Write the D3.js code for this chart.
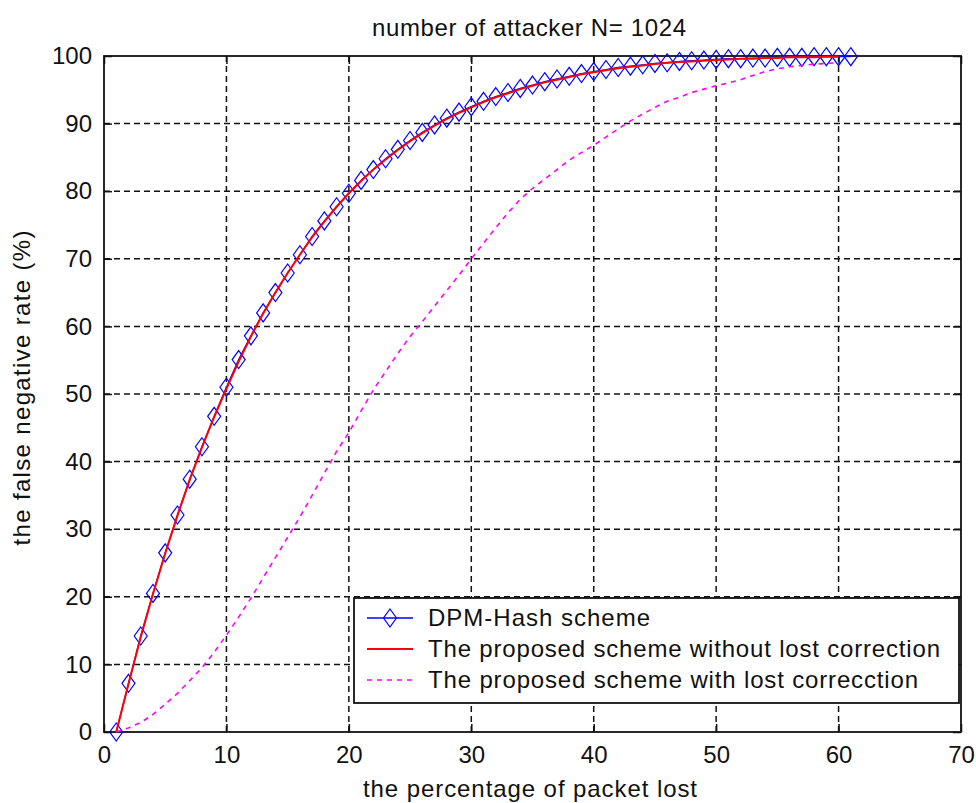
<!DOCTYPE html>
<html>
<head>
<meta charset="utf-8">
<script src="https://cdn.jsdelivr.net/npm/d3@7"></script>
<style>
  html, body { margin: 0; padding: 0; background: #fff; }
  svg text { font-family: "Liberation Sans", Arial, sans-serif; fill: #111; }
</style>
</head>
<body>
<div id="chart"></div>
<script>
// --- data ---
const title = "number of attacker N= 1024";
const xLabel = "the percentage of packet lost";
const yLabel = "the false negative rate (%)";
const xTicks = [0, 10, 20, 30, 40, 50, 60, 70];
const yTicks = [0, 10, 20, 30, 40, 50, 60, 70, 80, 90, 100];
const seriesNames = [
  "DPM-Hash scheme",
  "The proposed scheme without lost correction",
  "The proposed scheme with lost correcction"
];

// DPM-Hash, x = 1..61
const dpmX = d3.range(1, 62);
const dpmY = [0, 7.2, 14.2, 20.5, 26.5, 32.1, 37.4, 42.2, 46.7, 51.0,
  55.1, 58.6, 62.0, 65.0, 67.9, 70.6, 73.3, 75.6, 77.7, 79.7,
  81.6, 83.2, 84.8, 86.2, 87.5, 88.7, 89.8, 90.8, 91.7, 92.5,
  93.3, 94.0, 94.6, 95.2, 95.7, 96.2, 96.6, 97.0, 97.4, 97.7,
  98.0, 98.3, 98.5, 98.7, 98.9, 99.0, 99.2, 99.3, 99.4, 99.5,
  99.6, 99.6, 99.7, 99.7, 99.8, 99.8, 99.8, 99.9, 99.9, 99.9, 99.9];

// proposed scheme without lost correction, x = 1..60
const noCorrX = d3.range(1, 61);
const noCorrY = [0, 7.1, 14.0, 20.4, 26.4, 32.0, 37.3, 42.1, 46.6, 50.8,
  54.8, 58.5, 61.9, 65.0, 67.9, 70.6, 73.2, 75.5, 77.7, 79.7,
  81.5, 83.2, 84.7, 86.1, 87.4, 88.6, 89.7, 90.7, 91.6, 92.4,
  93.2, 93.9, 94.5, 95.1, 95.6, 96.1, 96.5, 96.9, 97.3, 97.6,
  97.9, 98.2, 98.4, 98.6, 98.8, 99.0, 99.1, 99.2, 99.3, 99.4,
  99.5, 99.6, 99.6, 99.7, 99.7, 99.8, 99.8, 99.8, 99.9, 99.9];

// proposed scheme with lost correction, x = 1..60
const corrX = d3.range(1, 61);
const corrY = [0, 0.6, 1.4, 2.6, 4.1, 5.7, 7.6, 9.5, 11.8, 14.3,
  17.0, 19.8, 22.8, 25.8, 28.8, 31.8, 35.0, 38.3, 41.5, 44.3,
  47.5, 50.6, 53.3, 56.0, 58.5, 60.7, 63.0, 65.3, 67.6, 70.0,
  72.3, 74.6, 76.8, 78.8, 80.4, 81.8, 83.2, 84.6, 85.7, 86.8,
  88.0, 89.2, 90.4, 91.4, 92.4, 93.3, 93.9, 94.6, 95.1, 95.6,
  96.0, 96.5, 97.1, 97.7, 98.1, 98.4, 98.6, 98.8, 98.9, 99.0];

// --- layout ---
const W = 976, H = 803;
const plot = { left: 104, right: 961, top: 56, bottom: 732 };

const svg = d3.select("#chart").append("svg")
  .attr("width", W).attr("height", H);

const x = d3.scaleLinear().domain([0, 70]).range([plot.left, plot.right]);
const y = d3.scaleLinear().domain([0, 100]).range([plot.bottom, plot.top]);

// grid
const grid = svg.append("g").attr("stroke", "#111").attr("stroke-width", 1.5)
  .attr("stroke-dasharray", "6,4");
grid.selectAll("line.gx").data(xTicks.slice(1, -1)).join("line")
  .attr("x1", d => x(d)).attr("x2", d => x(d))
  .attr("y1", plot.top).attr("y2", plot.bottom);
grid.selectAll("line.gy").data(yTicks.slice(1, -1)).join("line")
  .attr("y1", d => y(d)).attr("y2", d => y(d))
  .attr("x1", plot.left).attr("x2", plot.right);

// axes (ticks inside, mirrored on top/right)
const tickLen = 8;
const fs = 24;
const axB = svg.append("g").attr("transform", `translate(0,${plot.bottom})`)
  .call(d3.axisBottom(x).tickValues(xTicks).tickSizeInner(-tickLen).tickSizeOuter(0).tickPadding(14));
const axT = svg.append("g").attr("transform", `translate(0,${plot.top})`)
  .call(d3.axisTop(x).tickValues(xTicks).tickSizeInner(-tickLen).tickSizeOuter(0).tickFormat(""));
const axL = svg.append("g").attr("transform", `translate(${plot.left},0)`)
  .call(d3.axisLeft(y).tickValues(yTicks).tickSizeInner(-tickLen).tickSizeOuter(0).tickPadding(12));
const axR = svg.append("g").attr("transform", `translate(${plot.right},0)`)
  .call(d3.axisRight(y).tickValues(yTicks).tickSizeInner(-tickLen).tickSizeOuter(0).tickFormat(""));
[axB, axT, axL, axR].forEach(a => {
  a.select(".domain").remove();
  a.selectAll(".tick line").attr("stroke", "#111").attr("stroke-width", 1.5);
  a.selectAll("text").attr("font-size", fs).attr("fill", "#111")
    .style("font-family", "'Liberation Sans', Arial, sans-serif");
});

svg.append("rect")
  .attr("x", plot.left).attr("y", plot.top)
  .attr("width", plot.right - plot.left).attr("height", plot.bottom - plot.top)
  .attr("fill", "none").attr("stroke", "#111").attr("stroke-width", 1.8);

// series
const line = d3.line().x(d => x(d[0])).y(d => y(d[1]));
const dpm = d3.zip(dpmX, dpmY);
const noCorr = d3.zip(noCorrX, noCorrY);
const corr = d3.zip(corrX, corrY);

const diamond = (cx, cy) => `M${cx},${cy - 9}L${cx + 6.5},${cy}L${cx},${cy + 9}L${cx - 6.5},${cy}Z`;

svg.append("path").datum(dpm).attr("d", line)
  .attr("fill", "none").attr("stroke", "#0000ff").attr("stroke-width", 1.3);
svg.append("g").selectAll("path").data(dpm).join("path")
  .attr("d", d => diamond(x(d[0]), y(d[1])))
  .attr("fill", "none").attr("stroke", "#0000ff").attr("stroke-width", 1.2);

svg.append("path").datum(noCorr).attr("d", line)
  .attr("fill", "none").attr("stroke", "#ff0000").attr("stroke-width", 2);

svg.append("path").datum(corr).attr("d", line)
  .attr("fill", "none").attr("stroke", "#ff00ff").attr("stroke-width", 1.6)
  .attr("stroke-dasharray", "5,5");

// legend
const lg = { x: 354, y: 598, w: 605, h: 105 };
svg.append("rect").attr("x", lg.x).attr("y", lg.y).attr("width", lg.w).attr("height", lg.h)
  .attr("fill", "#fff").attr("stroke", "#111").attr("stroke-width", 1.8);
const rowY = [618, 649, 680];
const rowLen = [222, 512, 490];
const styles = [
  { stroke: "#0000ff", w: 1.3, dash: null, marker: true },
  { stroke: "#ff0000", w: 2, dash: null, marker: false },
  { stroke: "#ff00ff", w: 1.6, dash: "5,5", marker: false }
];
seriesNames.forEach((name, i) => {
  const s = styles[i];
  svg.append("line").attr("x1", 367).attr("x2", 413).attr("y1", rowY[i]).attr("y2", rowY[i])
    .attr("stroke", s.stroke).attr("stroke-width", s.w).attr("stroke-dasharray", s.dash);
  if (s.marker) {
    svg.append("path").attr("d", diamond(390, rowY[i]))
      .attr("fill", "none").attr("stroke", s.stroke).attr("stroke-width", 1.2);
  }
  svg.append("text").attr("x", 428).attr("y", rowY[i]).attr("dy", "0.35em")
    .attr("font-size", fs).attr("textLength", rowLen[i]).attr("lengthAdjust", "spacing")
    .text(name);
});

// titles
svg.append("text").attr("x", 529).attr("y", 36)
  .attr("text-anchor", "middle").attr("font-size", fs)
  .attr("textLength", 314).attr("lengthAdjust", "spacing").text(title);
svg.append("text").attr("x", 530).attr("y", 797)
  .attr("text-anchor", "middle").attr("font-size", fs)
  .attr("textLength", 334).attr("lengthAdjust", "spacing").text(xLabel);
svg.append("text").attr("transform", `translate(30,388) rotate(-90)`)
  .attr("text-anchor", "middle").attr("font-size", fs)
  .attr("textLength", 315).attr("lengthAdjust", "spacing").text(yLabel);
</script>
</body>
</html>
